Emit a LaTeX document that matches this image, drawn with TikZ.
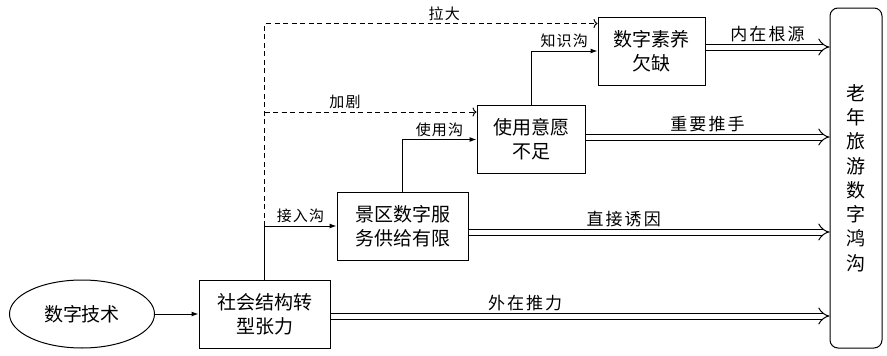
\documentclass[tikz,border=0pt]{standalone}
\usepackage{fontspec}
\newfontfamily\cjk{Noto Sans CJK SC}
\newfontfamily\cjklbl[LetterSpace=8]{Noto Sans CJK SC}
\newfontfamily\cjkwide[LetterSpace=12]{Noto Sans CJK SC}
\usetikzlibrary{positioning, shapes.geometric, arrows.meta}

\begin{document}
\begin{tikzpicture}[
  x=1pt, y=-1pt,
  box/.style={draw, line width=1pt, inner sep=0pt, minimum width=#1,
    minimum height=68pt, align=center, font=\cjk\fontsize{19}{24}\selectfont},
  box/.default={131pt},
  lbl/.style={font=\cjklbl\fontsize{15}{16}\selectfont, above, inner sep=2.5pt},
  plbl/.style={font=\cjkwide\fontsize{17}{18}\selectfont, above, inner sep=2.5pt, yshift=2pt},
  arr/.style={line width=1pt, -{Latex[length=7pt,width=5pt]}},
  dashline/.style={line width=1pt, dash pattern=on 5pt off 3.5pt,
    -{To[length=4pt,width=9pt]}},
  push/.style={double, double distance=5pt, line width=1pt, -{Implies}}
]
  \useasboundingbox (0,0) rectangle (887,356);
  % nodes
  \node[ellipse, draw, line width=1pt, minimum width=145pt, minimum height=68pt,
    inner sep=0pt, font=\cjk\fontsize{19}{24}\selectfont] (tech) at (82,314) {数字技术};
  \node[box] (soc) at (264.5,314) {社会结构转\\型张力};
  \node[box] (scen) at (402.5,226) {景区数字服\\务供给有限};
  \node[box=108pt] (will) at (531,139.5) {使用意愿\\不足};
  \node[box=107pt] (lit) at (651.5,51) {数字素养\\欠缺};
  \node[draw, line width=1pt, rounded corners=8pt, minimum width=52pt,
    minimum height=340pt, inner sep=0pt, align=center,
    font=\cjk\fontsize{19}{24.3}\selectfont] (gap) at (856,178)
    {老\\年\\旅\\游\\数\\字\\鸿\\沟};
  % solid links
  \draw[arr] (tech) -- (soc);
  \draw[arr] (soc.north) |- (scen.west) node[lbl, pos=0.75] {接入沟};
  \draw[arr] (scen.north) |- (will.west) node[lbl, pos=0.75] {使用沟};
  \draw[arr] (will.north) |- (lit.west) node[lbl, pos=0.75] {知识沟};
  % dashed links
  \coordinate (j) at (soc.north |- scen.west);
  \coordinate (w7) at ([yshift=-7pt]will.north west);
  \draw[dashline] (j) |- ([yshift=-7pt]lit.north west) node[lbl, pos=0.77] {拉大};
  \draw[dashline] (j |- w7) -- (w7) node[lbl, pos=0.38] {加剧};
  % double arrows to the gap
  \draw[push] ([yshift=4pt]lit.east) -- ([yshift=4pt]gap.west |- lit.east)
    node[plbl, pos=0.5] {内在根源};
  \draw[push] ([yshift=2.5pt]will.east) -- ([yshift=2.5pt]gap.west |- will.east)
    node[plbl, pos=0.5] {重要推手};
  \draw[push] ([yshift=-6pt]scen.east) -- ([yshift=-6pt]gap.west |- scen.east)
    node[plbl, pos=0.43] {直接诱因};
  \draw[push] ([yshift=-2pt]soc.east) -- ([yshift=-2pt]gap.west |- soc.east)
    node[plbl, pos=0.39] {外在推力};
\end{tikzpicture}
\end{document}
